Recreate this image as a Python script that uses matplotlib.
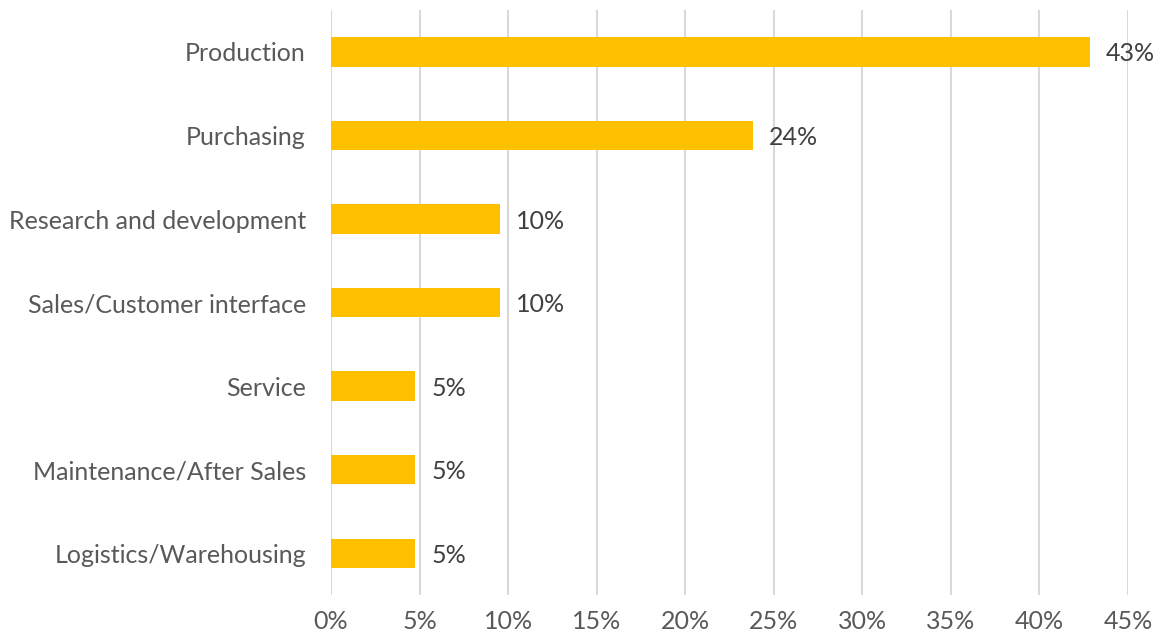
import matplotlib
matplotlib.use("Agg")
import matplotlib.pyplot as plt
from matplotlib.ticker import PercentFormatter

# share of responses per business area (n = 21)
areas = [
    "Production",
    "Purchasing",
    "Research and development",
    "Sales/Customer interface",
    "Service",
    "Maintenance/After Sales",
    "Logistics/Warehousing",
]
shares = [42.86, 23.81, 9.52, 9.52, 4.76, 4.76, 4.76]
ticks = [0, 5, 10, 15, 20, 25, 30, 35, 40, 45]

text_color = "#595959"
plt.rcParams["font.family"] = ["Lato", "DejaVu Sans"]

fig = plt.figure(figsize=(11.58, 6.37), dpi=100)
ax = fig.add_axes([0.2858, 0.066, 0.974 - 0.2858, 0.918])

pos = list(range(len(areas)))[::-1]
bars = ax.barh(pos, shares, height=0.35, color="#FFC000", zorder=3)

for b, v in zip(bars, shares):
    ax.text(b.get_width() + 0.9, b.get_y() + b.get_height() / 2, f"{v:.0f}%",
            va="center_baseline", ha="left", fontsize=18, color="#404040")

ax.set_xlim(0, 45)
ax.set_ylim(-0.5, len(areas) - 0.5)
ax.set_xticks(ticks)
ax.xaxis.set_major_formatter(PercentFormatter(decimals=0))
ax.set_yticks(pos)
ax.set_yticklabels(areas)
ax.tick_params(axis="y", length=0, pad=18, labelsize=18, labelcolor=text_color)
ax.tick_params(axis="x", length=0, pad=11, labelsize=18, labelcolor=text_color)

ax.grid(axis="x", color="#D9D9D9", linewidth=1.5, zorder=0)
for s in ax.spines.values():
    s.set_visible(False)

fig.savefig("out.png", dpi=100)
